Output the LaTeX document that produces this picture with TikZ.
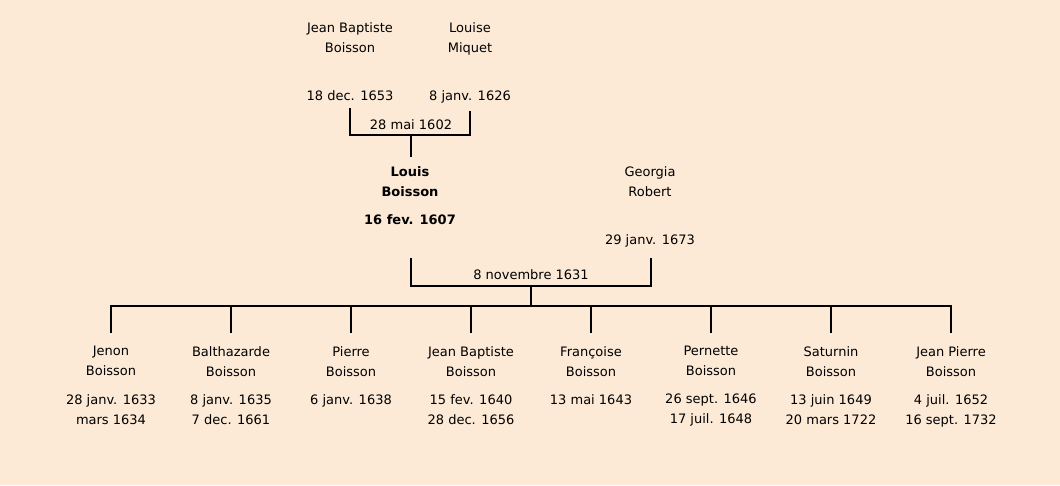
\documentclass[tikz,border=0pt]{standalone}
\usepackage{fontspec}
\setmainfont{DejaVu Sans}
\definecolor{parchment}{RGB}{252,234,214}
\tikzset{
  person/.style={align=center,inner sep=0pt,anchor=north,font=\fontsize{13}{20}\selectfont},
  datum/.style={align=center,inner sep=0pt,anchor=north,font=\fontsize{13}{20}\selectfont},
  bar/.style={line width=2pt},
}
\begin{document}
\begin{tikzpicture}[x=1pt,y=-1pt]
      \fill[parchment](0,0)rectangle(1060,485);
      \useasboundingbox(0,0)rectangle(1060,485);

      % grands-parents
      \node[person](jb) at (350,22){Jean Baptiste\\Boisson};
      \node[datum](jbd) at (350,90){18 dec. 1653};
      \node[person](lm) at (470,22){Louise\\Miquet};
      \node[datum](lmd) at (470,90){8 janv. 1626};
      \coordinate(m1) at (411,135);
      \node[datum](mar1) at (411,119){28 mai 1602};
      \draw[bar,shorten <=8pt,shorten >=8pt](jbd.south)|-(m1)-|(lmd.south);

      % couple
      \node[person,font=\fontsize{13}{20}\bfseries](louis) at (410,166){Louis\\Boisson};
      \node[datum,font=\fontsize{13}{20}\bfseries](louisd) at (410,214){16 fev. 1607};
      \draw[bar](m1)--(m1|-157,157);
      \node[person](gr) at (650,166){Georgia\\Robert};
      \node[datum](grd) at (650,234){29 janv. 1673};
      \coordinate(lt) at (411,258);
      \coordinate(gt) at (651,258);
      \coordinate(m2) at (531,286);
      \node[datum](mar2) at (531,269){8 novembre 1631};
      \draw[bar](lt)|-(m2)-|(gt);
      \coordinate(rail) at (531,306);
      \draw[bar](m2)--(rail);

      % enfants
      \node[person](c1) at (111,346){Jenon\\Boisson};
      \node[datum](d1) at (111,394){28 janv. 1633\\mars 1634};
      \node[person](c2) at (231,346){Balthazarde\\Boisson};
      \node[datum](d2) at (231,394){8 janv. 1635\\7 dec. 1661};
      \node[person](c3) at (351,346){Pierre\\Boisson};
      \node[datum](d3) at (351,394){6 janv. 1638};
      \node[person](c4) at (471,346){Jean Baptiste\\Boisson};
      \node[datum](d4) at (471,394){15 fev. 1640\\28 dec. 1656};
      \node[person](c5) at (591,346){Françoise\\Boisson};
      \node[datum](d5) at (591,394){13 mai 1643};
      \node[person](c6) at (711,346){Pernette\\Boisson};
      \node[datum](d6) at (711,394){26 sept. 1646\\17 juil. 1648};
      \node[person](c7) at (831,346){Saturnin\\Boisson};
      \node[datum](d7) at (831,394){13 juin 1649\\20 mars 1722};
      \node[person](c8) at (951,346){Jean Pierre\\Boisson};
      \node[datum](d8) at (951,394){4 juil. 1652\\16 sept. 1732};

      \draw[bar,line cap=rect](c1.north|-rail)--(c8.north|-rail);
      \foreach \k in {1,...,8}
        \draw[bar,shorten >=13pt](c\k.north|-rail)--(c\k.north);
\end{tikzpicture}
\end{document}
